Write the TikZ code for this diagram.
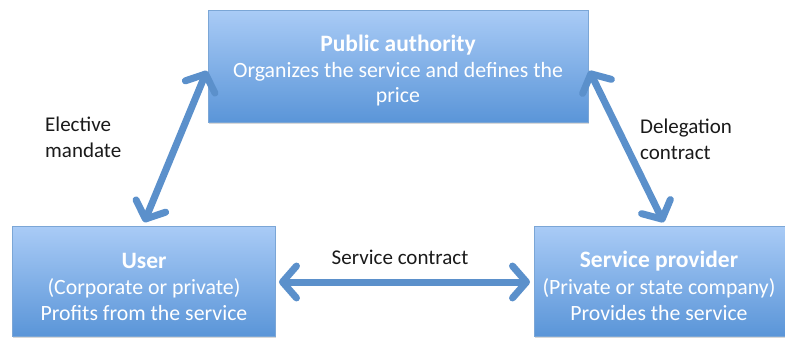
\documentclass[tikz,border=0pt]{standalone}
\usepackage{fontspec}
\setmainfont{Carlito}
\usetikzlibrary{arrows.meta,shadows}
\definecolor{boxtop}{HTML}{A9CBF6}
\definecolor{boxbot}{HTML}{5A95D8}
\definecolor{boxline}{HTML}{7BA6D6}
\definecolor{arrowc}{HTML}{5B90CB}
\definecolor{labc}{HTML}{1A1A1A}
\tikzset{
  rolebox/.style={draw=boxline, line width=0.8pt, top color=boxtop, bottom color=boxbot,
    text=white, align=center, inner sep=0pt, anchor=north west,
    drop shadow={shadow xshift=1pt, shadow yshift=-1.5pt, fill=black!30, opacity=0.5}},
  link/.style={draw=arrowc, line width=7pt,
    {Straight Barb[length=14pt,width=32pt,line cap=round,line join=round]}-{Straight Barb[length=14pt,width=32pt,line cap=round,line join=round]}, shorten <=3pt, shorten >=3pt},
  lab/.style={text=labc, font=\fontsize{21}{26}\selectfont, align=left, inner sep=0pt},
  ttl/.style={text=white, font=\fontsize{23.5}{28}\selectfont\bfseries},
  sub/.style={text=white, font=\fontsize{21.8}{26}\selectfont},
}
\begin{document}
\begin{tikzpicture}[x=1pt,y=-1pt]
\useasboundingbox (0,0) rectangle (785,340);
\node[rolebox, minimum width=380pt, minimum height=112pt] (pa) at (208,10) {};
\node[rolebox, minimum width=263pt, minimum height=110pt] (us) at (12,226) {};
\node[rolebox, minimum width=260pt, minimum height=110pt] (sp) at (534,226) {};
\node[ttl] (pat) at (398,45) {Public authority};
\node[sub] (pa1) at (398,72) {Organizes the service and defines the};
\node[sub] (pa2) at (398,97) {price};
\node[ttl] (ust) at (144,261) {User};
\node[sub] (us1) at (144,288) {(Corporate or private)};
\node[sub] (us2) at (144,313) {Profits from the service};
\node[ttl] (spt) at (659,261) {Service provider};
\node[sub] (sp1) at (659,288) {(Private or state company)};
\node[sub] (sp2) at (659,313) {Provides the service};
\coordinate (a1) at (208,68);
\coordinate (a2) at (143,225);
\coordinate (b1) at (588,68);
\coordinate (b2) at (665,225);
\coordinate (c1) at (276,282);
\coordinate (c2) at (533,282);
\draw[link] (a1) -- (a2);
\draw[link] (b1) -- (b2);
\draw[link] (c1) -- (c2);
\node[lab, anchor=west] (el) at (45,137) {Elective\\mandate};
\node[lab, anchor=west] (dc) at (640,139) {Delegation\\contract};
\node[lab] (sc) at (400,257) {Service contract};
\end{tikzpicture}
\end{document}
